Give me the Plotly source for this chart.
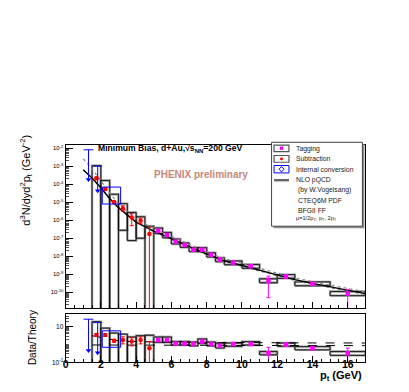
import plotly.graph_objects as go

# ---------------- data ----------------
# subtraction method (red), main panel
sub_pt = [1.75, 2.25, 2.75, 3.25, 3.75, 4.25, 4.75]
sub_y = [2.1e-4, 5.4e-5, 1.0e-5, 4.5e-6, 1.4e-6, 9.3e-7, 1.7e-7]
sub_up = [2.5e-4, 6.5e-5, 1.2e-5, 6.3e-6, 2.3e-6, 1.3e-6, 4.0e-7]
sub_lo = [1.75e-4, 4.5e-5, 8.5e-6, 3.2e-6, 5.0e-7, 6.3e-7, 1e-14]
sub_bin_lo = [1.5, 2.0, 2.5, 3.0, 3.5, 4.0, 4.5]
sub_bin_hi = [2.0, 2.5, 3.0, 3.5, 4.0, 4.5, 5.0]
sub_sys_hi = [1.07e-3, 1.6e-4, 2.75e-5, 8.3e-6, 2.7e-6, 1.55e-6, 4.6e-7]
sub_sys_lo = [1e-14, 1e-14, 1e-14, 2.75e-7, 7.4e-8, 1.0e-7, 1e-14]

# tagging method (magenta), main panel
tag_pt = [5.25, 5.75, 6.25, 6.75, 7.25, 7.75, 8.25, 8.75, 9.5, 10.5, 11.5, 12.5, 14.0, 16.0]
tag_bin_lo = [5.0, 5.5, 6.0, 6.5, 7.0, 7.5, 8.0, 8.5, 9.0, 10.0, 11.0, 12.0, 13.0, 15.0]
tag_bin_hi = [5.5, 6.0, 6.5, 7.0, 7.5, 8.0, 8.5, 9.0, 10.0, 11.0, 12.0, 13.0, 15.0, 17.0]
tag_y = [2.6e-7, 1.5e-7, 6.6e-8, 4.2e-8, 2.3e-8, 2.3e-8, 1.2e-8, 6.6e-9, 4.4e-9, 2.75e-9,
         4.4e-10, 7.6e-10, 3.0e-10, 8.7e-11]
tag_up = [2.8e-7, 1.6e-7, 7.0e-8, 4.4e-8, 2.4e-8, 2.4e-8, 1.3e-8, 8.0e-9, 4.7e-9, 2.9e-9,
          7.9e-10, 9.5e-10, 3.5e-10, 1.45e-10]
tag_lo = [2.4e-7, 1.4e-7, 6.2e-8, 4.0e-8, 2.2e-8, 2.2e-8, 1.1e-8, 5.5e-9, 4.1e-9, 2.6e-9,
          5e-11, 6.0e-10, 2.55e-10, 1e-14]
tag_sys_hi = [3.7e-7, 2.1e-7, 9.0e-8, 5.5e-8, 3.0e-8, 3.0e-8, 1.55e-8, 8.3e-9, 5.5e-9, 3.5e-9,
              5.6e-10, 9.6e-10, 3.8e-10, 1.1e-10]
tag_sys_lo = [1.8e-7, 1.05e-7, 4.8e-8, 3.1e-8, 1.8e-8, 1.8e-8, 9.0e-9, 5.0e-9, 3.4e-9, 2.15e-9,
              3.4e-10, 5.9e-10, 2.3e-10, 6.5e-11]

# internal conversion (blue), main panel
ic_pt = [1.3, 1.82, 2.6]
ic_hw = [0.28, 0.25, 0.52]
ic_y = [2.8e-3, 4.3e-4, 3.7e-5]
ic_hi = [8.1e-3, 1.0e-3, 6.9e-5]
ic_lo = [1.8e-4, 4.3e-5, 7.9e-6]

# NLO pQCD
th_pt = [1.0, 1.5, 2.0, 2.5, 3.0, 3.5, 4.0, 5.0, 6.0, 7.0, 8.0, 9.0, 10.0, 11.0, 12.0,
         13.0, 14.0, 15.0, 16.0, 17.0]
th_y = [6.3e-4, 2.2e-4, 6.3e-5, 1.6e-5, 5.0e-6, 1.9e-6, 7.9e-7, 2.5e-7, 9.5e-8, 3.5e-8,
        1.3e-8, 5.6e-9, 3.0e-9, 1.6e-9, 8.7e-10, 5.0e-10, 3.1e-10, 2.0e-10, 1.3e-10, 8.5e-11]
# scale variations, as ratio to the central curve
th_hi_ratio = [4.0, 3.2, 2.5, 2.0, 1.66, 1.55, 1.48, 1.41, 1.38, 1.35, 1.32, 1.30, 1.29,
               1.27, 1.26, 1.26, 1.25, 1.25, 1.24, 1.24]
th_lo_ratio = [0.96, 0.96, 0.95, 0.95, 0.95, 0.94, 0.94, 0.93, 0.93, 0.92, 0.92, 0.91,
               0.91, 0.90, 0.90, 0.89, 0.89, 0.88, 0.88, 0.88]

# data / theory panel
sub_r = [3.5, 3.5, 1.66, 1.8, 1.5, 1.8, 0.63]
sub_r_up = [4.2, 4.2, 2.0, 2.75, 2.45, 2.75, 1.48]
sub_r_lo = [2.9, 2.9, 1.4, 1.1, 0.85, 1.1, 1e-4]
sub_r_sys_hi = [19.5, 8.5, 4.5, 3.9, 2.7, 3.2, 3.4]
sub_r_sys_lo = [1e-4, 1e-4, 1e-4, 1e-4, 1e-4, 1e-4, 1e-4]

tag_r = [1.8, 1.8, 1.17, 1.17, 1.1, 1.5, 1.1, 0.87, 1.1, 1.1, 0.33, 1.0, 0.63, 0.33]
tag_r_up = [1.9, 1.9, 1.23, 1.23, 1.15, 1.6, 1.15, 1.05, 1.15, 1.15, 0.71, 1.26, 0.8, 0.63]
tag_r_lo = [1.7, 1.7, 1.1, 1.1, 1.05, 1.4, 1.05, 0.72, 1.05, 1.05, 1e-4, 0.8, 0.5, 1e-4]
tag_r_sys_hi = [2.7, 2.7, 1.5, 1.5, 1.4, 2.1, 1.4, 1.2, 1.23, 1.48, 0.41, 1.23, 0.78, 0.41]
tag_r_sys_lo = [1.35, 1.35, 0.95, 0.95, 0.85, 1.17, 0.85, 0.65, 0.81, 0.95, 0.27, 0.81, 0.51, 0.25]

ic_r = [11.2, 9.1, 2.0]
ic_r_hi = [27.0, 17.4, 6.0]
ic_r_lo = [0.47, 0.35, 0.71]

main_ticks = [1e-10, 1e-9, 1e-8, 1e-7, 1e-6, 1e-5, 1e-4, 1e-3, 1e-2]
main_ticktext = ["10<sup>-10</sup>", "10<sup>-9</sup>", "10<sup>-8</sup>", "10<sup>-7</sup>",
                 "10<sup>-6</sup>", "10<sup>-5</sup>", "10<sup>-4</sup>", "10<sup>-3</sup>",
                 "10<sup>-2</sup>"]
ratio_ticks = [0.1, 10]
ratio_ticktext = ["10<sup>-1</sup>", "10"]

FONT = "Liberation Sans, Arial, Helvetica, sans-serif"
W, H = 409, 392


def px(x):
    return x / W


def py(y):
    return 1 - y / H


def box_lines(x0s, x1s, y0s, y1s):
    xs, ys = [], []
    for a, b, c, d in zip(x0s, x1s, y0s, y1s):
        xs += [a, b, b, a, a, None]
        ys += [c, c, d, d, c, None]
    return xs, ys


def caps(xc, hw, yv):
    xs, ys = [], []
    for a, w, c in zip(xc, hw, yv):
        xs += [a - w, a + w, None]
        ys += [c, c, None]
    return xs, ys


def vlines(xc, y0s, y1s):
    xs, ys = [], []
    for a, c, d in zip(xc, y0s, y1s):
        xs += [a, a, None]
        ys += [c, d, None]
    return xs, ys


fig = go.Figure()


def add_panel(xa, ya, s_y, s_up, s_lo, s_shi, s_slo, t_y, t_up, t_lo, t_shi, t_slo,
              i_y, i_hi, i_lo, th_line, th_hi, th_lo, th_x, main):
    # systematic boxes, double outline gray + black
    for bx0, bx1, b0, b1 in [(sub_bin_lo, sub_bin_hi, s_slo, s_shi),
                             (tag_bin_lo, tag_bin_hi, t_slo, t_shi)]:
        xs, ys = box_lines(bx0, bx1, b0, b1)
        fig.add_trace(go.Scatter(x=xs, y=ys, mode="lines", xaxis=xa, yaxis=ya,
                                 line=dict(color="#9a9a9a", width=2.4), hoverinfo="skip"))
        fig.add_trace(go.Scatter(x=xs, y=ys, mode="lines", xaxis=xa, yaxis=ya,
                                 line=dict(color="black", width=0.8), hoverinfo="skip"))
    # theory band and curve
    if main:
        fig.add_trace(go.Scatter(x=th_x, y=th_hi, mode="lines", xaxis=xa, yaxis=ya,
                                 line=dict(color="#888888", width=1.2, dash="dot"), hoverinfo="skip"))
        fig.add_trace(go.Scatter(x=th_x, y=th_lo, mode="lines", xaxis=xa, yaxis=ya,
                                 line=dict(color="#888888", width=1.2, dash="dot"), hoverinfo="skip"))
        fig.add_trace(go.Scatter(x=th_x, y=th_line, mode="lines", xaxis=xa, yaxis=ya,
                                 line=dict(color="black", width=1.4), hoverinfo="skip"))
    else:
        fig.add_trace(go.Scatter(x=th_x, y=th_hi, mode="lines", xaxis=xa, yaxis=ya,
                                 line=dict(color="black", width=1, dash="dash"), hoverinfo="skip"))
        fig.add_trace(go.Scatter(x=th_x, y=th_lo, mode="lines", xaxis=xa, yaxis=ya,
                                 line=dict(color="black", width=1, dash="dash"), hoverinfo="skip"))

    # subtraction
    fig.add_trace(go.Scatter(
        x=sub_pt, y=s_y, mode="markers", xaxis=xa, yaxis=ya,
        marker=dict(color="#ff0000", size=4.5, symbol="circle"),
        error_y=dict(type="data", symmetric=False,
                     array=[u - v for u, v in zip(s_up, s_y)],
                     arrayminus=[v - l for v, l in zip(s_y, s_lo)],
                     color="#ff0000", thickness=1, width=2)))
    # tagging
    fig.add_trace(go.Scatter(
        x=tag_pt, y=t_y, mode="markers", xaxis=xa, yaxis=ya,
        marker=dict(color="#ff00ff", size=4.5, symbol="square"),
        error_y=dict(type="data", symmetric=False,
                     array=[u - v for u, v in zip(t_up, t_y)],
                     arrayminus=[v - l for v, l in zip(t_y, t_lo)],
                     color="#ff00ff", thickness=1, width=2)))

    # internal conversion: two upper limits (arrows) and one box
    blue = "#0000ff"
    xs, ys = vlines(ic_pt[:2], i_lo[:2], i_hi[:2])
    fig.add_trace(go.Scatter(x=xs, y=ys, mode="lines", xaxis=xa, yaxis=ya,
                             line=dict(color=blue, width=1), hoverinfo="skip"))
    xs, ys = caps(ic_pt[:2], ic_hw[:2], i_hi[:2])
    fig.add_trace(go.Scatter(x=xs, y=ys, mode="lines", xaxis=xa, yaxis=ya,
                             line=dict(color=blue, width=1), hoverinfo="skip"))
    fig.add_trace(go.Scatter(x=ic_pt[:2], y=i_lo[:2], mode="markers", xaxis=xa, yaxis=ya,
                             marker=dict(color=blue, size=5, symbol="triangle-down"),
                             hoverinfo="skip"))
    xs, ys = box_lines([ic_pt[2] - ic_hw[2]], [ic_pt[2] + ic_hw[2]], [i_lo[2]], [i_hi[2]])
    fig.add_trace(go.Scatter(x=xs, y=ys, mode="lines", xaxis=xa, yaxis=ya,
                             line=dict(color=blue, width=1), hoverinfo="skip"))
    fig.add_trace(go.Scatter(x=ic_pt, y=i_y, mode="markers", xaxis=xa, yaxis=ya,
                             marker=dict(color="rgba(0,0,0,0)", size=6.5, symbol="diamond-cross-open",
                                         line=dict(color=blue, width=1))))


add_panel("x", "y", sub_y, sub_up, sub_lo, sub_sys_hi, sub_sys_lo,
          tag_y, tag_up, tag_lo, tag_sys_hi, tag_sys_lo,
          ic_y, ic_hi, ic_lo, th_y,
          [t * r for t, r in zip(th_y, th_hi_ratio)],
          [t * r for t, r in zip(th_y, th_lo_ratio)], th_pt, True)

add_panel("x2", "y2", sub_r, sub_r_up, sub_r_lo, sub_r_sys_hi, sub_r_sys_lo,
          tag_r, tag_r_up, tag_r_lo, tag_r_sys_hi, tag_r_sys_lo,
          ic_r, ic_r_hi, ic_r_lo, None,
          th_hi_ratio[1:], th_lo_ratio[1:], th_pt[1:], False)

axis_common = dict(showline=True, linecolor="black", linewidth=1, mirror=True,
                   showgrid=False, zeroline=False, ticks="inside", tickcolor="black")

fig.update_layout(
    width=W, height=H, margin=dict(l=0, r=0, t=0, b=0),
    paper_bgcolor="white", plot_bgcolor="white", showlegend=False,
    font=dict(family=FONT, color="black"),
    xaxis=dict(domain=[px(55), px(357)], range=[0, 17], dtick=2, ticklen=6,
               showticklabels=False, anchor="y",
               minor=dict(dtick=0.5, ticks="inside", ticklen=3, tickcolor="black"),
               **axis_common),
    yaxis=dict(domain=[py(302), py(137)], type="log", range=[-10.88, -1.84],
               tickvals=main_ticks, ticktext=main_ticktext, ticklen=7,
               tickfont=dict(size=6), anchor="x",
               minor=dict(ticks="inside", ticklen=3.5, tickcolor="#555", dtick="D1"),
               **axis_common),
    xaxis2=dict(domain=[px(55), px(357)], range=[0, 17], dtick=2, ticklen=6,
                tickfont=dict(size=10.5, family=FONT, weight="bold"), anchor="y2",
                ticklabelstandoff=-8,
                minor=dict(dtick=0.5, ticks="inside", ticklen=3, tickcolor="black"),
                **axis_common),
    yaxis2=dict(domain=[py(357), py(308)], type="log", range=[-1, 1.72],
                tickvals=ratio_ticks, ticktext=ratio_ticktext, ticklen=7,
                tickfont=dict(size=6.5), anchor="x2",
                minor=dict(ticks="inside", ticklen=3.5, tickcolor="#555", dtick="D1"),
                **axis_common),
)

# legend box drawn by hand (ROOT style with shadow)
shapes = [
    dict(type="rect", xref="paper", yref="paper", x0=px(264.5), x1=px(356), y0=py(221), y1=py(136),
         fillcolor="#8c8c8c", line=dict(width=0)),
    dict(type="rect", xref="paper", yref="paper", x0=px(262.5), x1=px(354), y0=py(219), y1=py(134),
         fillcolor="white", line=dict(color="#444", width=1)),
    dict(type="rect", xref="paper", yref="paper", x0=px(265), x1=px(280), y0=py(143.5), y1=py(136.8),
         line=dict(color="#555", width=1.2)),
    dict(type="rect", xref="paper", yref="paper", x0=px(270.8), x1=px(274.2), y0=py(141.7), y1=py(138.3),
         fillcolor="#ff00ff", line=dict(width=0)),
    dict(type="rect", xref="paper", yref="paper", x0=px(265), x1=px(280), y0=py(154.2), y1=py(147.4),
         line=dict(color="#555", width=1.2)),
    dict(type="circle", xref="paper", yref="paper", x0=px(271), x1=px(274), y0=py(152.3), y1=py(149.3),
         fillcolor="#ff0000", line=dict(width=0)),
    dict(type="rect", xref="paper", yref="paper", x0=px(265), x1=px(280), y0=py(165), y1=py(157.5),
         line=dict(color="#0000ff", width=1)),
    dict(type="path", xref="paper", yref="paper",
         path=f"M {px(272.5)} {py(158.6)} L {px(275)} {py(161.3)} L {px(272.5)} {py(164)} "
              f"L {px(270)} {py(161.3)} Z",
         line=dict(color="#0000ff", width=1)),
    dict(type="line", xref="paper", yref="paper", x0=px(265), x1=px(280), y0=py(172.4), y1=py(172.4),
         line=dict(color="#666", width=2.4)),
]
fig.update_layout(shapes=shapes)

leg_lines = [("Tagging", 285, 140.3, 6.8), ("Subtraction", 285, 150.8, 6.8),
             ("Internal conversion", 285, 161.5, 6.8), ("NLO pQCD", 285, 172.5, 6.8),
             ("(by W.Vogelsang)", 287.5, 182.8, 6.8), ("CTEQ6M PDF", 287.5, 193, 6.8),
             ("BFGII FF", 287.5, 203.3, 6.8),
             ("μ=1/2p<sub>T</sub>, p<sub>T</sub>, 2p<sub>T</sub>", 285.5, 210.8, 5.6)]
for txt, x, y, s in leg_lines:
    fig.add_annotation(text=txt, x=px(x), y=py(y), xref="paper", yref="paper",
                       xanchor="left", yanchor="middle", showarrow=False,
                       font=dict(size=s, family=FONT, color="#222"))

fig.add_annotation(text="<b>Minimum Bias, d+Au,√s<sub>NN</sub>=200 GeV</b>",
                   x=px(86), y=py(140.5), xref="paper", yref="paper", xanchor="left",
                   yanchor="middle", showarrow=False, font=dict(size=8.6, family=FONT))
fig.add_annotation(text="<b>PHENIX preliminary</b>", x=px(142), y=py(166.5), xref="paper",
                   yref="paper", xanchor="left", yanchor="middle", showarrow=False,
                   font=dict(size=10, family=FONT, color="#c98679"))
fig.add_annotation(text="d<sup>3</sup>N/dyd<sup>2</sup>p<sub>t</sub> (GeV<sup>-2</sup>)",
                   x=px(15), y=py(172), xref="paper", yref="paper", xanchor="center",
                   yanchor="middle", textangle=-90, showarrow=False,
                   font=dict(size=11, family=FONT))
fig.add_annotation(text="Data/Theory", x=px(21.5), y=py(332), xref="paper", yref="paper",
                   xanchor="center", yanchor="middle", textangle=-90, showarrow=False,
                   font=dict(size=10, family=FONT))
fig.add_annotation(text="<b>p<sub>t</sub> (GeV)</b>", x=px(356), y=py(371), xref="paper",
                   yref="paper", xanchor="right", yanchor="middle", showarrow=False,
                   font=dict(size=11, family=FONT))

fig.write_html("out.html")
